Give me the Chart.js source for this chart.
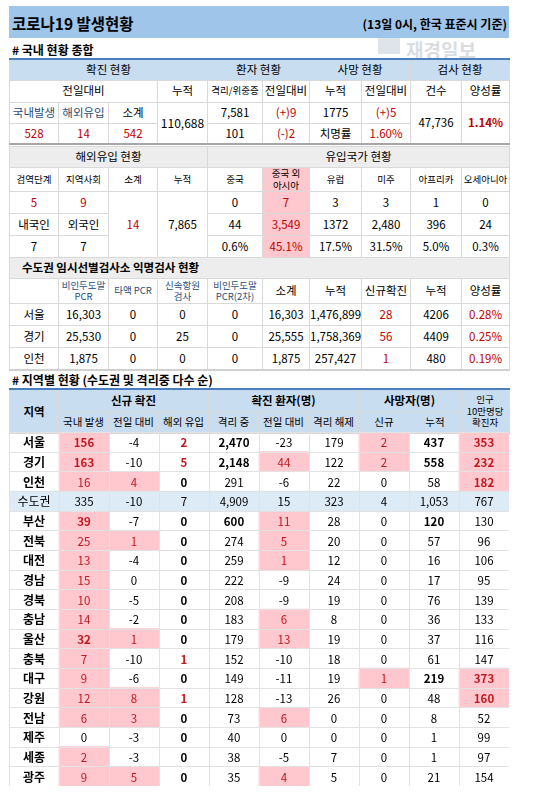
<!DOCTYPE html>
<html><head><meta charset="utf-8">
<script src="https://cdn.jsdelivr.net/npm/chart.js@4"></script>
<style>
body{margin:0;width:550px;height:795px;background:#fff;font-family:"Noto Sans CJK KR","Noto Sans",sans-serif;color:#000;position:relative;overflow:hidden}
.abs{position:absolute}
table{border-collapse:collapse;table-layout:fixed;width:500px;position:absolute;left:9px}
td{border:1px solid #d9d9d9;text-align:center;font-size:11.5px;padding:0;line-height:1.15;white-space:nowrap;overflow:hidden}
.r{color:#c00000}.b{font-weight:bold}.bl{color:#1f4e79}.sm{font-size:9.5px;line-height:1.2}
.pk{background:#ffc7ce;color:#c00000}
.hb td{background:#c9ddf1}
.hg td{background:#ededed}
</style></head><body>
<div class="abs" style="left:9px;top:6px;width:500px;height:32px;background:#9fc5ea"></div>
<div class="abs b" style="left:12px;top:12px;font-size:15.5px">코로나19 발생현황</div>
<div class="abs b" style="right:43px;top:15px;font-size:12px">(13일 0시, 한국 표준시 기준)</div>
<div class="abs b" style="left:12px;top:41px;font-size:12px"># 국내 현황 종합</div>
<div class="abs" style="left:378px;top:38px;width:22px;height:16px;background:#dfe4ea"></div>
<div class="abs b" style="left:406px;top:36px;font-size:19px;color:#d9dde2">재경일보</div>

<table style="top:58px;border-top:2px solid #4a7ebf;border-bottom:2px solid #a6a6a6">
<colgroup><col style="width:49px"><col style="width:50px"><col style="width:49px"><col style="width:50px"><col style="width:55px"><col style="width:47px"><col style="width:52px"><col style="width:49px"><col style="width:51px"><col style="width:48px"></colgroup>
<tr class="hb" style="height:21px"><td colspan="4">확진 현황</td><td colspan="2">환자 현황</td><td colspan="2">사망 현황</td><td colspan="2">검사 현황</td></tr>
<tr style="height:22px"><td colspan="3">전일대비</td><td>누적</td><td class="sm">격리/위중증</td><td>전일대비</td><td>누적</td><td>전일대비</td><td>건수</td><td>양성률</td></tr>
<tr style="height:21px"><td class="bl">국내발생</td><td class="bl">해외유입</td><td>소계</td><td rowspan="2" style="font-size:12px">110,688</td><td>7,581</td><td class="r">(+)9</td><td>1775</td><td class="r">(+)5</td><td rowspan="2">47,736</td><td rowspan="2" class="r b">1.14%</td></tr>
<tr style="height:21px"><td class="r">528</td><td class="r">14</td><td class="r">542</td><td>101</td><td class="r">(-)2</td><td>치명률</td><td class="r">1.60%</td></tr>
</table>

<table style="top:146px;border-bottom:1px solid #d9d9d9">
<colgroup><col style="width:49px"><col style="width:50px"><col style="width:49px"><col style="width:50px"><col style="width:55px"><col style="width:47px"><col style="width:52px"><col style="width:49px"><col style="width:51px"><col style="width:48px"></colgroup>
<tr class="hg" style="height:21px"><td colspan="4">해외유입 현황</td><td colspan="6">유입국가 현황</td></tr>
<tr style="height:24px"><td class="sm">검역단계</td><td class="sm">지역사회</td><td class="sm">소계</td><td class="sm">누적</td><td class="sm">중국</td><td class="sm pk" style="color:#000">중국 외<br>아시아</td><td class="sm">유럽</td><td class="sm">미주</td><td class="sm">아프리카</td><td class="sm">오세아니아</td></tr>
<tr style="height:22px"><td class="r">5</td><td class="r">9</td><td rowspan="3" class="r">14</td><td rowspan="3">7,865</td><td>0</td><td class="pk">7</td><td>3</td><td>3</td><td>1</td><td>0</td></tr>
<tr style="height:22px"><td>내국인</td><td>외국인</td><td>44</td><td class="pk">3,549</td><td>1372</td><td>2,480</td><td>396</td><td>24</td></tr>
<tr style="height:22px"><td>7</td><td>7</td><td>0.6%</td><td class="pk">45.1%</td><td>17.5%</td><td>31.5%</td><td>5.0%</td><td>0.3%</td></tr>
</table>

<table style="top:257px;border-bottom:2px solid #d0d0d0">
<colgroup><col style="width:49px"><col style="width:50px"><col style="width:49px"><col style="width:50px"><col style="width:55px"><col style="width:47px"><col style="width:52px"><col style="width:49px"><col style="width:51px"><col style="width:48px"></colgroup>
<tr class="hg" style="height:21px"><td colspan="10" class="b" style="text-align:left;padding-left:12px">수도권 임시선별검사소 익명검사 현황</td></tr>
<tr style="height:25px"><td></td><td class="sm bl">비인두도말<br>PCR</td><td class="sm bl">타액 PCR</td><td class="sm bl">신속항원<br>검사</td><td class="sm bl">비인두도말<br>PCR(2차)</td><td>소계</td><td>누적</td><td>신규확진</td><td>누적</td><td>양성률</td></tr>
<tr style="height:22px"><td>서울</td><td>16,303</td><td>0</td><td>0</td><td>0</td><td>16,303</td><td>1,476,899</td><td class="r">28</td><td>4206</td><td class="r">0.28%</td></tr>
<tr style="height:22px"><td>경기</td><td>25,530</td><td>0</td><td>25</td><td>0</td><td>25,555</td><td>1,758,369</td><td class="r">56</td><td>4409</td><td class="r">0.25%</td></tr>
<tr style="height:22px"><td>인천</td><td>1,875</td><td>0</td><td>0</td><td>0</td><td>1,875</td><td>257,427</td><td class="r">1</td><td>480</td><td class="r">0.19%</td></tr>
</table>

<div class="abs b" style="left:12px;top:371px;font-size:12px"># 지역별 현황 (수도권 및 격리중 다수 순)</div>
<table style="top:388px;border-top:2px solid #4a7ebf">
<colgroup><col style="width:49px"><col style="width:50px"><col style="width:50px"><col style="width:50px"><col style="width:50px"><col style="width:50px"><col style="width:50px"><col style="width:51px"><col style="width:51px"><col style="width:49px"></colgroup>
<tr class="hb" style="height:22px"><td rowspan="2" class="b">지역</td><td colspan="3" class="b">신규 확진</td><td colspan="3" class="b">확진 환자(명)</td><td colspan="2" class="b">사망자(명)</td><td rowspan="2" class="sm">인구<br>10만명당<br>확진자</td></tr>
<tr class="hb" style="height:22px"><td class="sm" style="font-size:10.5px">국내 발생</td><td style="font-size:10.5px">전일 대비</td><td style="font-size:10.5px">해외 유입</td><td style="font-size:10.5px">격리 중</td><td style="font-size:10.5px">전일 대비</td><td style="font-size:10.5px">격리 해제</td><td style="font-size:10.5px">신규</td><td style="font-size:10.5px">누적</td></tr>
</table>
<canvas id="c" width="500" height="354" style="position:absolute;left:9px;top:432px"></canvas>
<script>
const regions=["서울","경기","인천","수도권","부산","전북","대전","경남","경북","충남","울산","충북","대구","강원","전남","제주","세종","광주"];
const domestic=[156,163,16,335,39,25,13,15,10,14,32,7,9,12,6,0,2,9];
const domesticDiff=[-4,-10,4,-10,-7,1,-4,0,-5,-2,1,-10,-6,8,3,-3,-3,5];
const overseas=[2,5,0,7,0,0,0,0,0,0,0,1,0,1,0,0,0,0];
const isolated=[2470,2148,291,4909,600,274,259,222,208,183,179,152,149,128,73,40,38,35];
const isolatedDiff=[-23,44,-6,15,11,5,1,-9,-9,6,13,-10,-11,-13,6,0,-5,4];
const released=[179,122,22,323,28,20,12,24,19,8,19,18,19,26,0,0,7,5];
const deathNew=[2,2,0,4,0,0,0,0,0,0,0,0,1,0,0,0,0,0];
const deathCum=[437,558,58,1053,120,57,16,17,76,36,37,61,219,48,8,1,1,21];
const per100k=[353,232,182,767,130,96,106,95,139,133,116,147,373,160,52,99,97,154];
const cols=[domestic,domesticDiff,overseas,isolated,isolatedDiff,released,deathNew,deathCum,per100k];
const TOTAL=3;
const hl=[v=>v>0,v=>v>0,v=>false,v=>false,v=>v>0,v=>false,v=>v>0,v=>false,v=>v>=160];
const boldCells={0:[0,1,4,10],2:'all',3:[0,1,4],7:[0,1,4,12],8:[0,1,2,12,13]};
const fmt=v=>v.toLocaleString('en-US');
const datasets=[{data:regions.map((r,i)=>i===TOTAL?[0,10]:null),backgroundColor:'#ddebf7'}];
cols.forEach((arr,c)=>datasets.push({data:arr.map((v,i)=>i!==TOTAL&&hl[c](v)?[c+1,c+2]:null),backgroundColor:'#ffc7ce'}));
const textPlugin={id:'txt',afterDatasetsDraw(ch){
 const ctx=ch.ctx,x=ch.scales.x,y=ch.scales.y;
 ctx.save();ctx.strokeStyle='#e2e2e2';ctx.lineWidth=1;
 for(let c=0;c<=10;c++){const px=Math.round(x.getPixelForValue(c))+0.5;ctx.beginPath();ctx.moveTo(px,ch.chartArea.top);ctx.lineTo(px,ch.chartArea.bottom);ctx.stroke();}
 const h=(y.getPixelForValue(1)-y.getPixelForValue(0));
 for(let i=0;i<=regions.length;i++){const py=Math.round(y.getPixelForValue(i)-h/2)+0.5;ctx.beginPath();ctx.moveTo(ch.chartArea.left,py);ctx.lineTo(ch.chartArea.right,py);ctx.stroke();}
 ctx.textAlign='center';ctx.textBaseline='middle';
 regions.forEach((r,i)=>{const py=y.getPixelForValue(i)+1;
  ctx.font=(i===TOTAL?'':'bold ')+'12px "Noto Sans CJK KR"';ctx.fillStyle='#000';
  ctx.fillText(r,x.getPixelForValue(0.5),py);
  cols.forEach((arr,c)=>{const v=arr[i];
   const bc=boldCells[c];const bold=i!==TOTAL&&(bc==='all'||(bc&&bc.includes(i)));
   let col='#000';
   if(i!==TOTAL&&(hl[c](v)||(c===2&&v>0)))col='#c0181f';
   ctx.fillStyle=col;ctx.font=(bold?'bold ':'')+'11.5px "Noto Sans CJK KR"';
   ctx.fillText(fmt(v),x.getPixelForValue(c+1.5),py);});
 });
 ctx.restore();}};
new Chart(document.getElementById('c'),{type:'bar',data:{labels:regions,datasets},
 options:{indexAxis:'y',responsive:false,animation:false,layout:{padding:0},
  datasets:{bar:{barPercentage:1,categoryPercentage:1,grouped:false,borderWidth:0}},
  plugins:{legend:{display:false},tooltip:{enabled:false}},
  scales:{x:{type:'linear',min:0,max:10,display:false},y:{display:false,offset:true}}},
 plugins:[textPlugin]});
</script>
</body></html>
